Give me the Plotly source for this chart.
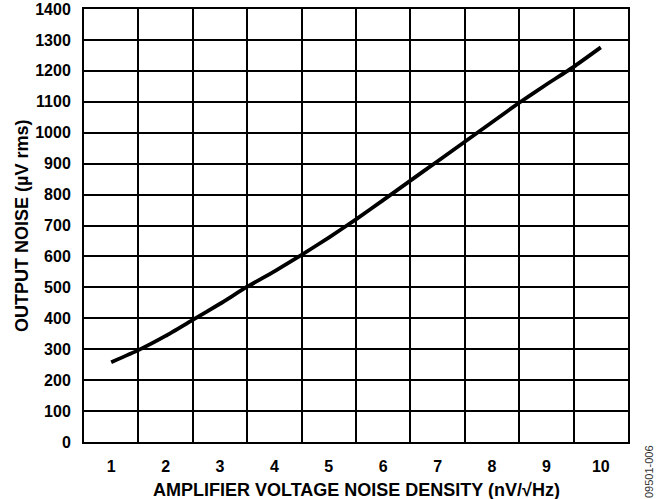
import plotly.graph_objects as go

# Amplifier voltage noise density (nV/√Hz) vs. resulting output noise (µV rms)
noise_density = [1, 1.5, 2, 2.5, 3, 3.5, 4, 4.5, 5, 5.5, 6, 6.5, 7, 7.5, 8, 8.5, 9, 9.5, 10]
output_noise = [258, 297, 343, 395, 447, 502, 552, 605, 661, 720, 782, 845, 908, 971,
                1034, 1097, 1156, 1213, 1276]

x_ticks = [1, 2, 3, 4, 5, 6, 7, 8, 9, 10]
x_grid = [1.5, 2.5, 3.5, 4.5, 5.5, 6.5, 7.5, 8.5, 9.5]
y_ticks = list(range(0, 1401, 100))

FONT = "Liberation Sans, Arial, Helvetica, sans-serif"

fig = go.Figure()
fig.add_trace(go.Scatter(
    x=noise_density, y=output_noise, mode="lines",
    line=dict(color="black", width=3.8, shape="spline", smoothing=0.4),
    showlegend=False, hoverinfo="skip",
))

fig.update_layout(
    width=662, height=499,
    margin=dict(l=84, r=34, t=9, b=57),
    paper_bgcolor="white", plot_bgcolor="white",
    font=dict(family=FONT, color="black", size=16),
    xaxis=dict(
        range=[0.5, 10.5], tickvals=x_ticks, ticktext=[str(v) for v in x_ticks],
        showgrid=False, zeroline=False, ticks="", ticklen=0, ticklabelstandoff=9,
        showline=True, linecolor="black", linewidth=2, mirror=True,
        tickfont=dict(family=FONT, size=16, weight="bold"),
        minor=dict(tickvals=x_grid, showgrid=True, gridcolor="black", gridwidth=2, ticks=""),
        automargin=False,
    ),
    yaxis=dict(
        range=[0, 1400], tickvals=y_ticks, showgrid=True, gridcolor="black", gridwidth=2,
        zeroline=False, ticks="", ticklen=0, ticklabelstandoff=8,
        showline=True, linecolor="black", linewidth=2, mirror=True,
        tickfont=dict(family=FONT, size=16, weight="bold"),
        automargin=False,
    ),
    annotations=[
        dict(text="AMPLIFIER VOLTAGE NOISE DENSITY (nV/√Hz)", xref="paper", yref="paper",
             x=0.5, y=-0.1109, xanchor="center", yanchor="middle", showarrow=False,
             font=dict(family=FONT, size=18, weight="bold")),
        dict(text="OUTPUT NOISE (µV rms)", xref="paper", yref="paper",
             x=-0.1149, y=0.5, xanchor="center", yanchor="middle", textangle=-90,
             showarrow=False, font=dict(family=FONT, size=18, weight="bold")),
        dict(text="09501-006", xref="paper", yref="paper", x=1.0, y=0.0,
             xanchor="center", yanchor="top", xshift=20.5, yshift=-1, textangle=-90,
             showarrow=False, font=dict(family=FONT, size=11, color="#333333")),
    ],
)

fig.write_html("out.html")
